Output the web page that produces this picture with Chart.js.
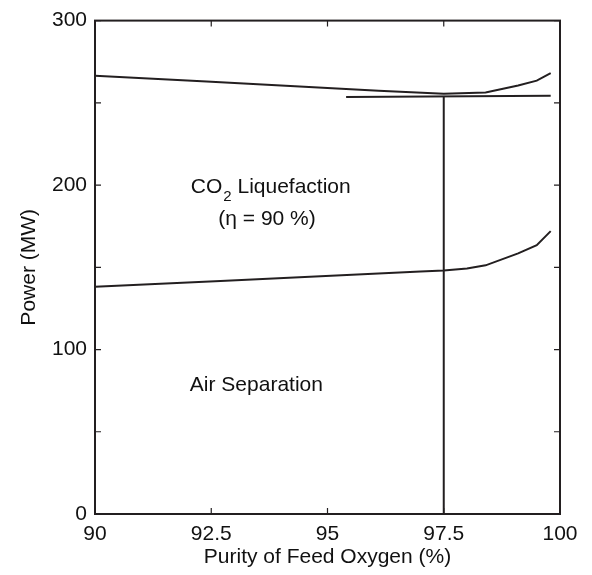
<!DOCTYPE html>
<html>
<head>
<meta charset="utf-8">
<script src="https://cdn.jsdelivr.net/npm/chart.js@4/dist/chart.umd.min.js"></script>
<style>
  html, body { margin: 0; padding: 0; background: #fff; }
  #wrap { width: 592px; height: 575px; }
</style>
</head>
<body>
<div id="wrap"><canvas id="c" width="592" height="575"></canvas></div>
<script>
// Purity of feed oxygen (%) and power (MW)
const co2Purity   = [90, 92.4, 96.1, 97.5, 98.4, 99.1, 99.5, 99.8];
const co2Power    = [266.4, 263, 257.4, 255.5, 256.3, 260.5, 263.5, 268];
const asuPurity   = [90, 92.7, 97.0, 97.5, 98.0, 98.4, 99.1, 99.5, 99.8];
const asuPower    = [138.2, 141.7, 147.4, 148, 149.3, 151.2, 158.5, 163.5, 172];
const refPurity   = [95.4, 99.8];
const refPower    = [253.6, 254.3];
const designPurity = [97.5, 97.5];
const designPower  = [0, 254];

const xTicks = [90, 92.5, 95, 97.5, 100];
const yTicks = [0, 50, 100, 150, 200, 250, 300];
const yLabelled = [0, 100, 200, 300];

const INK = '#231f20';
const FONT = '"Liberation Sans", Arial, sans-serif';
const FS = 21;

const pts = (xs, ys) => xs.map((x, i) => ({ x, y: ys[i] }));
const lineDs = (data) => ({
  data, showLine: true, borderColor: INK, borderWidth: 2,
  pointRadius: 0, tension: 0, fill: false
});

// Frame, inward tick marks and region labels
const decor = {
  id: 'decor',
  afterDraw(chart) {
    const { ctx, chartArea: a, scales: { x, y } } = chart;
    ctx.save();
    ctx.strokeStyle = INK;
    ctx.lineWidth = 2;
    ctx.strokeRect(a.left, a.top, a.right - a.left, a.bottom - a.top);
    ctx.lineWidth = 1.2;
    ctx.beginPath();
    xTicks.forEach(v => {
      const px = x.getPixelForValue(v);
      ctx.moveTo(px, a.bottom); ctx.lineTo(px, a.bottom - 6);
      ctx.moveTo(px, a.top); ctx.lineTo(px, a.top + 6);
    });
    yTicks.forEach(v => {
      const py = y.getPixelForValue(v);
      ctx.moveTo(a.left, py); ctx.lineTo(a.left + 6, py);
      ctx.moveTo(a.right, py); ctx.lineTo(a.right - 6, py);
    });
    ctx.stroke();

    ctx.fillStyle = '#111';
    ctx.textBaseline = 'alphabetic';
    ctx.textAlign = 'left';
    ctx.font = FS + 'px ' + FONT;
    // CO2 Liquefaction
    let px = x.getPixelForValue(92.06);
    const py = y.getPixelForValue(195);
    ctx.fillText('CO', px, py);
    px += ctx.measureText('CO').width + 1;
    ctx.font = Math.round(FS * 0.72) + 'px ' + FONT;
    ctx.fillText('2', px, py + 8);
    px += ctx.measureText('2').width;
    ctx.font = FS + 'px ' + FONT;
    ctx.fillText(' Liquefaction', px, py);
    // efficiency
    ctx.textAlign = 'center';
    ctx.fillText('(\u03b7 = 90 %)', x.getPixelForValue(93.7), y.getPixelForValue(176));
    // Air separation
    ctx.textAlign = 'left';
    ctx.fillText('Air Separation', x.getPixelForValue(92.04), y.getPixelForValue(74.7));
    ctx.restore();
  }
};

new Chart(document.getElementById('c'), {
  type: 'scatter',
  data: {
    datasets: [
      lineDs(pts(co2Purity, co2Power)),
      lineDs(pts(refPurity, refPower)),
      lineDs(pts(asuPurity, asuPower)),
      lineDs(pts(designPurity, designPower))
    ]
  },
  options: {
    responsive: false,
    animation: false,
    devicePixelRatio: 1,
    layout: { padding: { left: 0, right: 32, top: 20, bottom: 0 } },
    plugins: { legend: { display: false }, tooltip: { enabled: false } },
    scales: {
      x: {
        type: 'linear', min: 90, max: 100,
        afterBuildTicks: (s) => { s.ticks = xTicks.map(v => ({ value: v })); },
        afterFit: (s) => { s.height = 61; },
        grid: { display: false, drawTicks: false },
        border: { display: false },
        ticks: {
          color: '#111', font: { family: FONT, size: FS }, padding: 8,
          maxRotation: 0, autoSkip: false,
          callback: (v) => String(v)
        },
        title: {
          display: true, text: 'Purity of Feed Oxygen (%)',
          color: '#111', font: { family: FONT, size: FS }, padding: { top: 0, bottom: 5 }
        }
      },
      y: {
        type: 'linear', min: 0, max: 300,
        afterBuildTicks: (s) => { s.ticks = yTicks.map(v => ({ value: v })); },
        afterFit: (s) => { s.width = 95; },
        grid: { display: false, drawTicks: false },
        border: { display: false },
        ticks: {
          color: '#111', font: { family: FONT, size: FS }, padding: 8,
          autoSkip: false,
          callback: (v) => yLabelled.includes(v) ? String(v) : ''
        },
        title: {
          display: true, text: 'Power (MW)',
          color: '#111', font: { family: FONT, size: FS }, padding: { top: 17, bottom: 0 }
        }
      }
    }
  },
  plugins: [decor]
});
</script>
</body>
</html>
